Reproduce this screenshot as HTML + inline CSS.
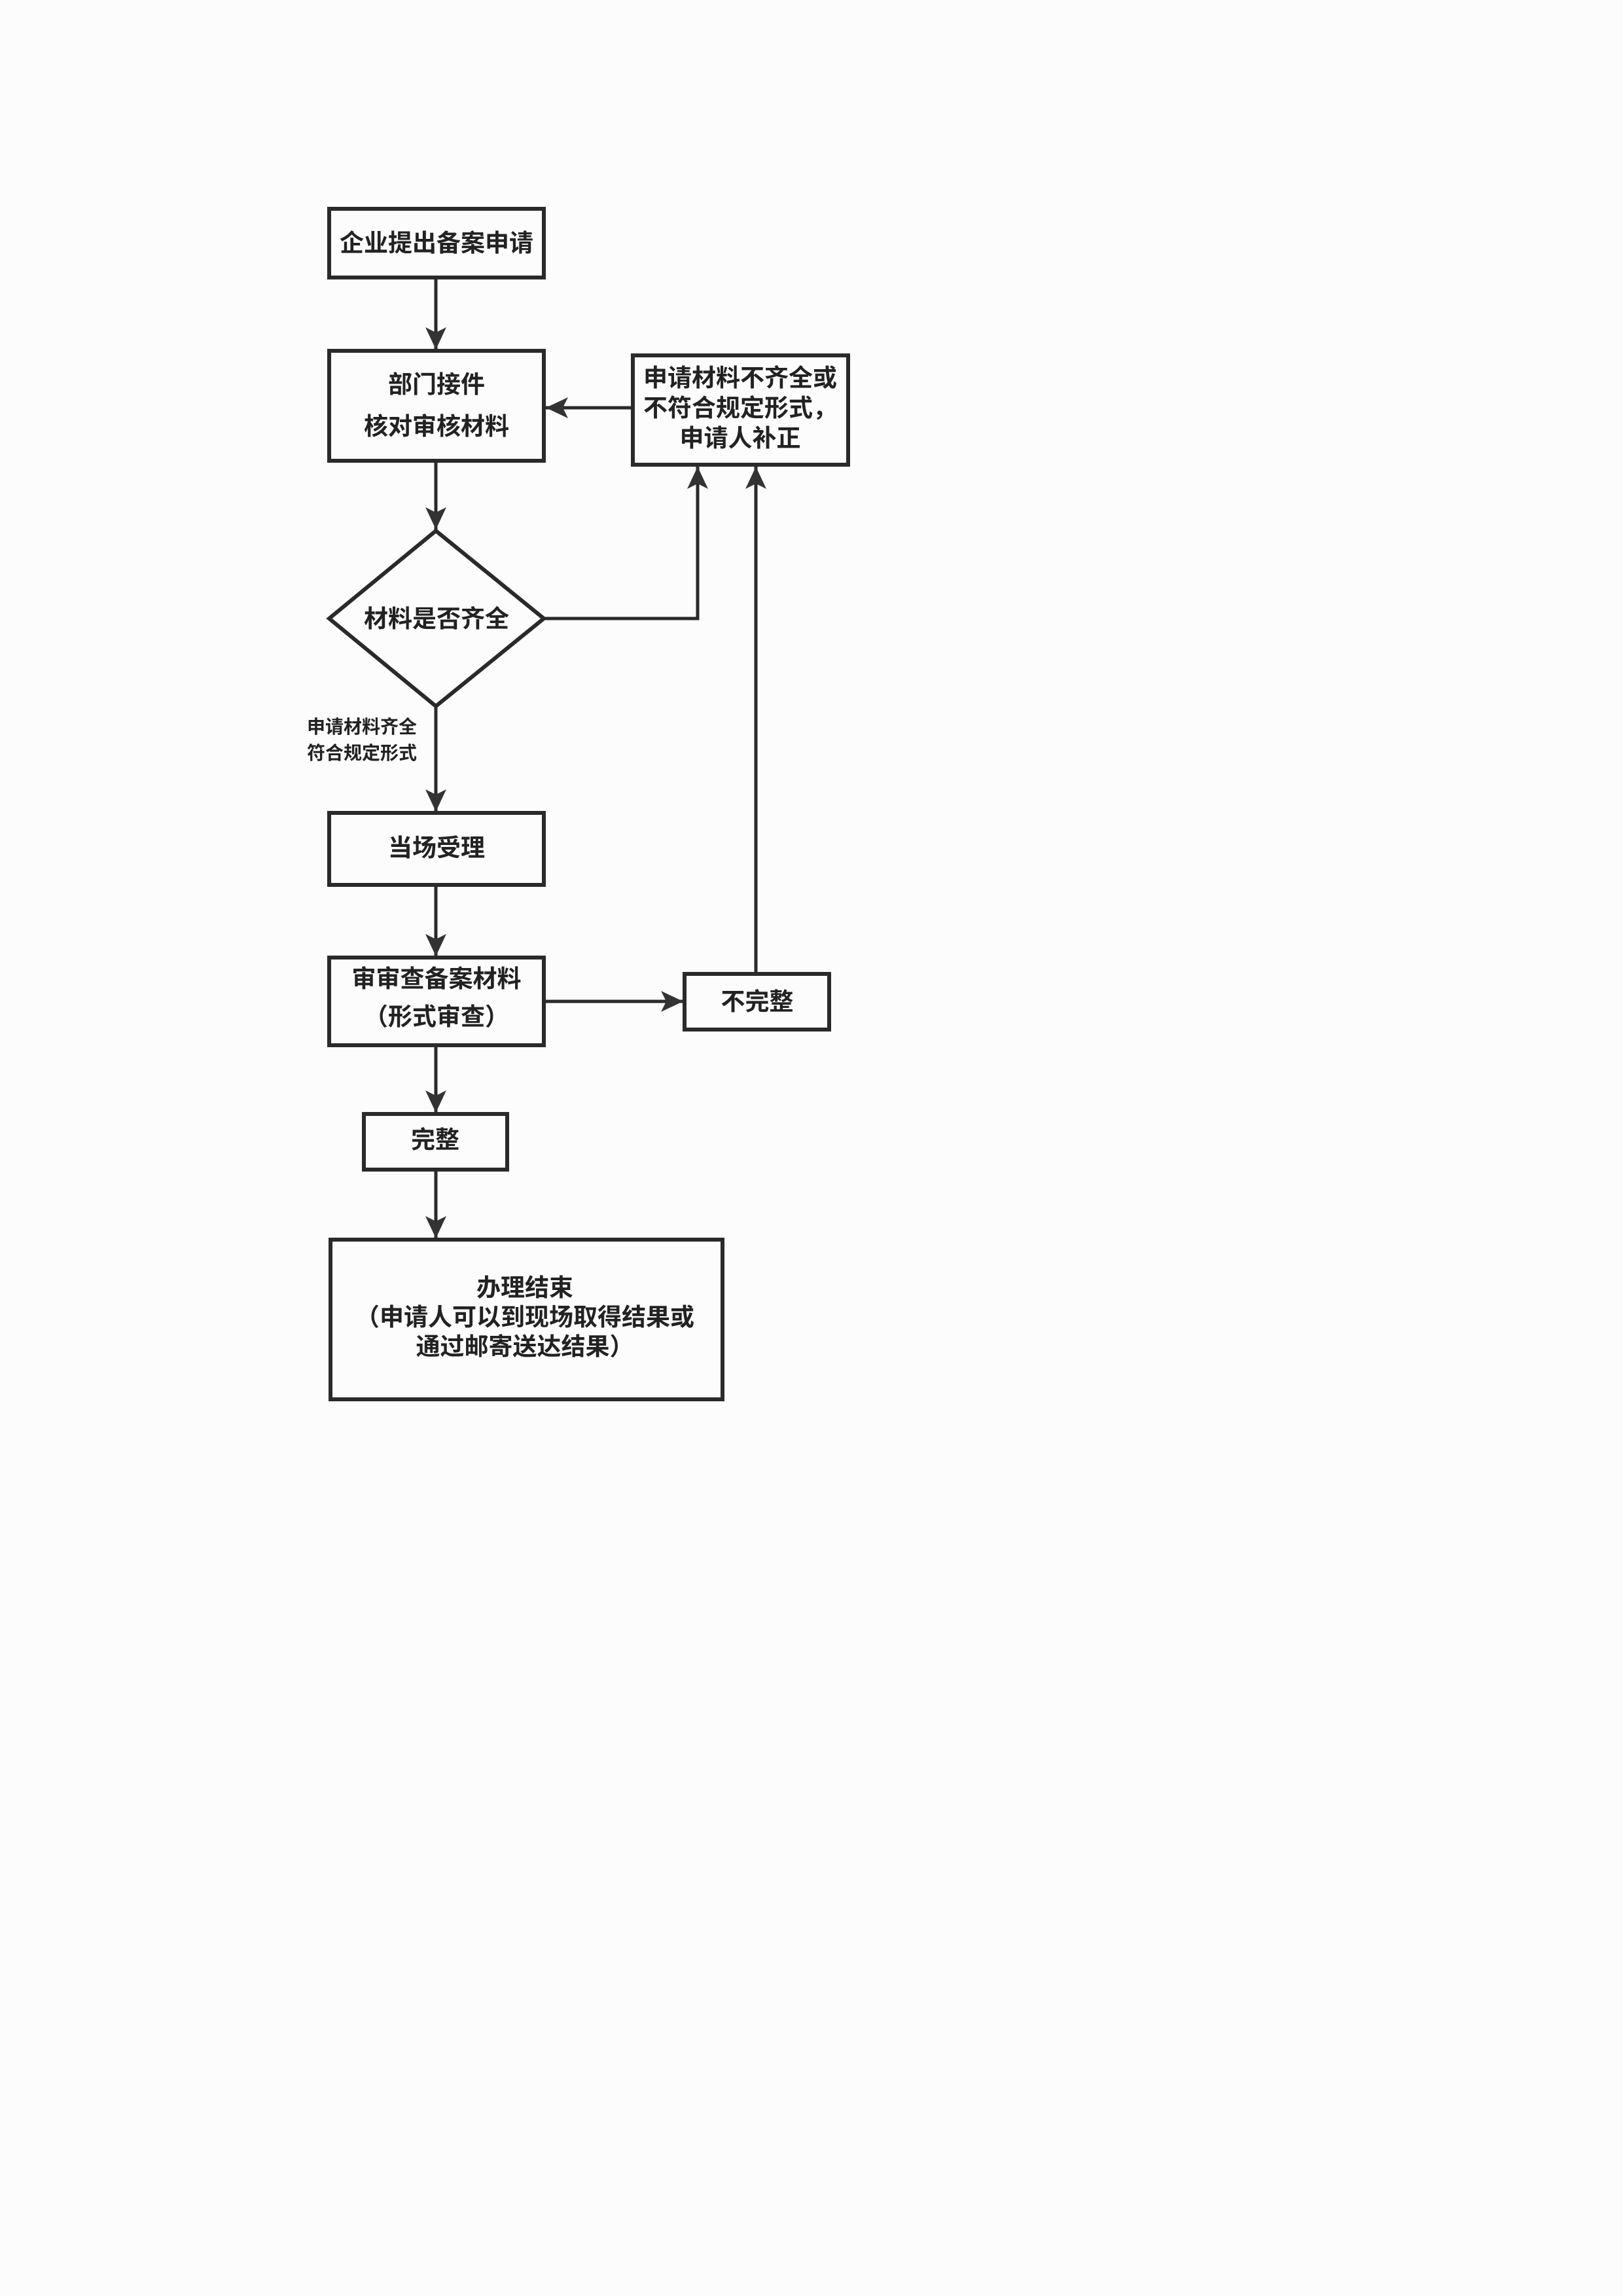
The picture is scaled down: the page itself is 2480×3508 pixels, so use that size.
<!DOCTYPE html>
<html><head><meta charset="utf-8"><style>
html,body{margin:0;padding:0;background:#fcfcfd;}
svg{display:block}
text{font-family:"Liberation Sans","Noto Sans CJK SC",sans-serif;font-weight:bold;fill:#222;}
</style></head><body>
<svg width="2480" height="3508" viewBox="0 0 2480 3508" xmlns="http://www.w3.org/2000/svg">
<defs>
<marker id="a" markerWidth="36" markerHeight="36" refX="34" refY="16" orient="auto" markerUnits="userSpaceOnUse">
<path d="M0,0 L34,16 L0,32 L8,16 Z" fill="#333"/>
</marker>
</defs>
<g stroke="#2a2a2a" stroke-width="6" fill="none">
<rect x="503" y="319" width="328" height="105"/>
<rect x="503" y="536" width="328" height="168"/>
<rect x="967" y="543" width="329" height="167"/>
<polygon points="666,811 831,945 666,1079 503,945"/>
<rect x="503" y="1242" width="328" height="110"/>
<rect x="503" y="1463" width="328" height="134"/>
<rect x="1046" y="1488" width="221" height="85"/>
<rect x="556" y="1702" width="219" height="85"/>
<rect x="505" y="1894" width="599" height="244"/>
</g>
<g stroke="#2a2a2a" stroke-width="5" fill="none" marker-end="url(#a)">
<line x1="666" y1="424" x2="666" y2="534"/>
<line x1="666" y1="704" x2="666" y2="809"/>
<line x1="967" y1="623" x2="834" y2="623"/>
<polyline points="831,945 1066,945 1066,713"/>
<polyline points="1155,1488 1155,713"/>
<line x1="666" y1="1079" x2="666" y2="1240"/>
<line x1="666" y1="1352" x2="666" y2="1461"/>
<line x1="831" y1="1530" x2="1044" y2="1530"/>
<line x1="666" y1="1597" x2="666" y2="1700"/>
<line x1="666" y1="1787" x2="666" y2="1892"/>
</g>
<g font-size="37" text-anchor="middle">
<text x="667" y="384">企业提出备案申请</text>
<text x="667" y="600">部门接件</text>
<text x="667" y="664">核对审核材料</text>
<text x="1131" y="590">申请材料不齐全或</text>
<text x="1131" y="636">不符合规定形式，</text>
<text x="1131" y="682">申请人补正</text>
<text x="667" y="958">材料是否齐全</text>
<text x="667" y="1308">当场受理</text>
<text x="667" y="1508">审审查备案材料</text>
<text x="667" y="1566">（形式审查）</text>
<text x="1157" y="1543">不完整</text>
<text x="665" y="1754">完整</text>
<text x="802" y="1980">办理结束</text>
<text x="802" y="2025">（申请人可以到现场取得结果或</text>
<text x="802" y="2070">通过邮寄送达结果）</text>
</g>
<g font-size="28" text-anchor="start">
<text x="469" y="1120">申请材料齐全</text>
<text x="469" y="1160">符合规定形式</text>
</g>
</svg>
</body></html>
